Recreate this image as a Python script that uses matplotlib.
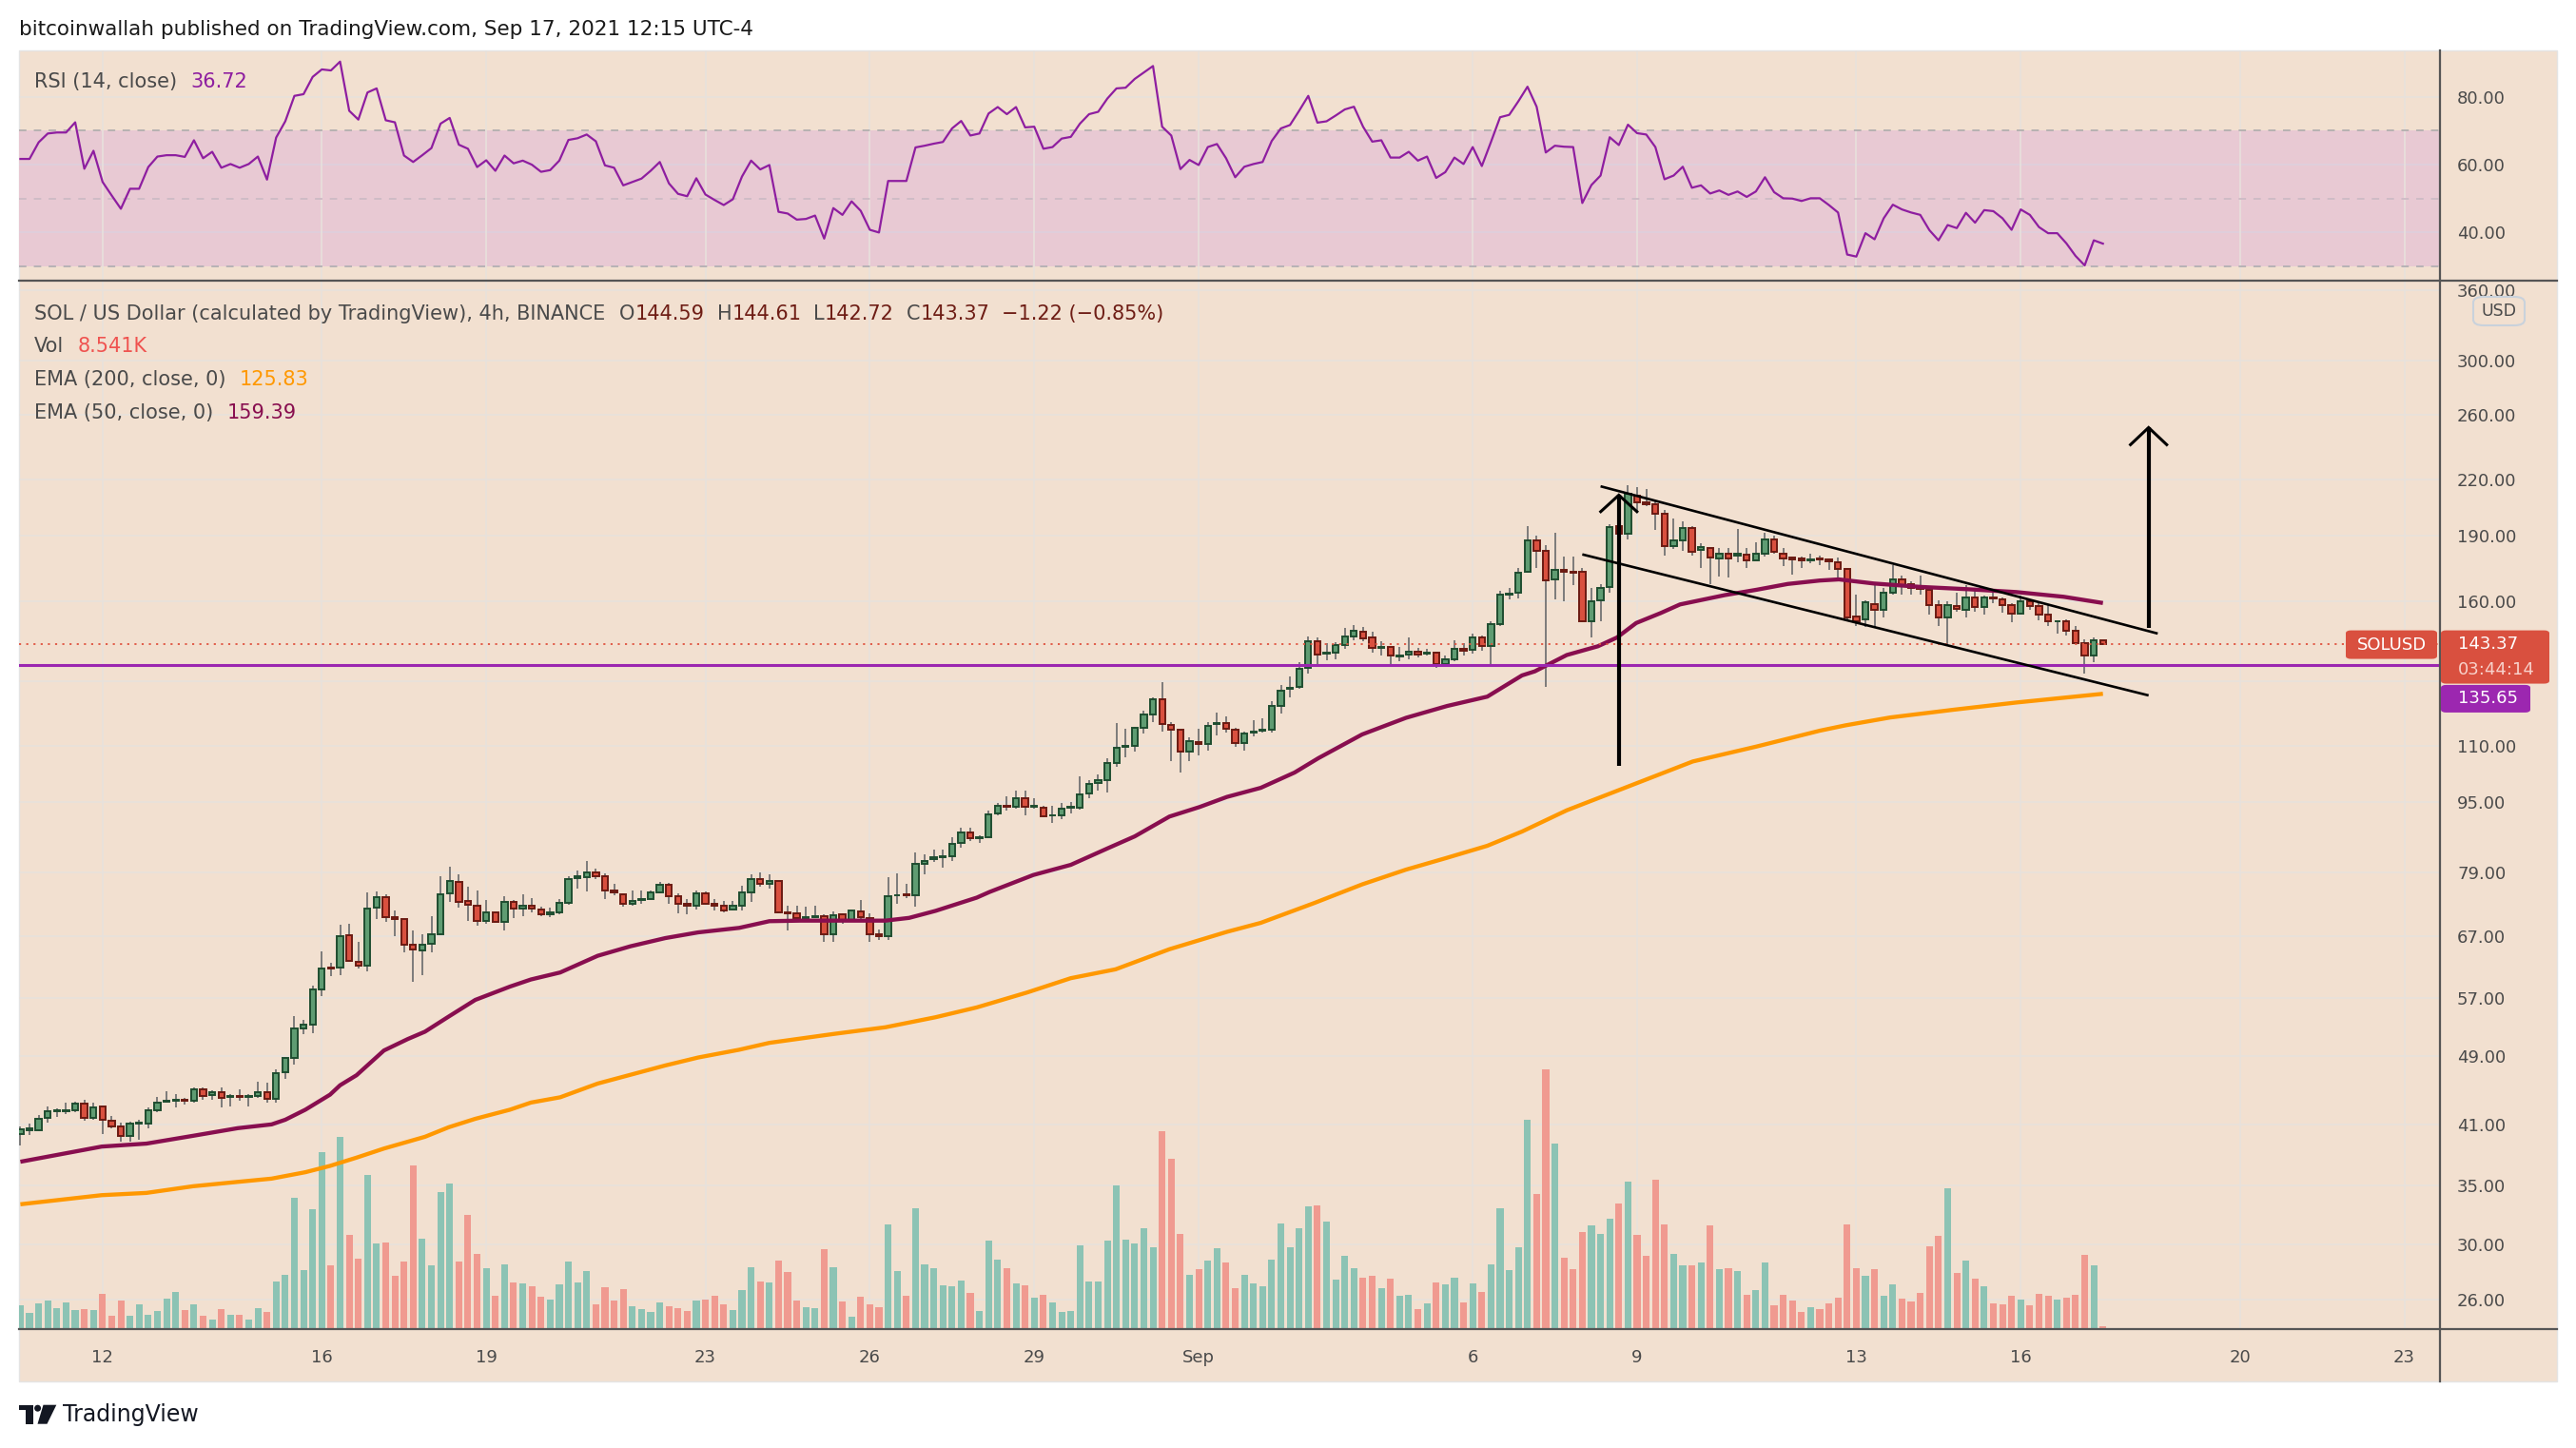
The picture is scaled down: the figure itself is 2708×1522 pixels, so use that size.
import numpy as np
import pandas as pd
import matplotlib
matplotlib.use("Agg")
import matplotlib.pyplot as plt
import matplotlib.ticker as ticker
from matplotlib.patches import Rectangle, FancyBboxPatch, Polygon, Ellipse
from matplotlib.lines import Line2D
from matplotlib.transforms import blended_transform_factory

# ---------------- data (SOL/USD 4h, Binance) ----------------
start_time = "2021-08-10 12:00"

opens = [40.0, 40.4, 40.4, 41.7, 42.4, 42.4, 42.5, 43.3, 41.7, 43.0,
         41.4, 40.8, 39.8, 41.1, 41.1, 42.5, 43.5, 43.6, 43.7, 43.6,
         44.9, 44.3, 44.6, 44.0, 44.2, 44.0, 44.2, 44.6, 43.8, 47.0,
         48.7, 52.7, 53.1, 58.3, 61.7, 61.7, 67.1, 62.6, 62.0, 72.1,
         74.1, 70.3, 70.0, 65.4, 64.5, 65.6, 67.3, 74.8, 77.0, 73.3,
         72.5, 69.7, 71.2, 69.4, 73.1, 72.0, 72.4, 71.8, 70.9, 71.2,
         73.0, 77.9, 78.1, 79.0, 78.3, 75.4, 74.7, 72.8, 73.5, 73.8,
         75.0, 76.5, 74.2, 72.8, 72.5, 74.8, 72.8, 72.4, 71.7, 72.4,
         75.0, 77.6, 76.8, 77.3, 71.3, 71.0, 70.1, 70.3, 70.6, 67.3,
         70.9, 69.8, 71.4, 70.1, 67.2, 67.0, 74.4, 74.6, 74.5, 80.9,
         81.9, 82.2, 82.4, 85.3, 87.6, 86.3, 86.7, 92.2, 94.1, 93.7,
         95.9, 93.7, 93.6, 91.6, 91.8, 93.5, 93.6, 97.0, 99.7, 100.6,
         105.2, 109.6, 109.9, 115.1, 119.3, 124.2, 116.1, 114.5, 108.3, 111.0,
         110.4, 116.3, 116.7, 114.5, 110.8, 113.8, 114.2, 114.5, 121.9, 127.4,
         128.1, 134.6, 144.2, 139.6, 140.2, 142.7, 146.1, 147.8, 145.6, 141.9,
         142.1, 138.7, 139.4, 140.5, 139.7, 140.1, 136.1, 137.8, 141.6, 141.1,
         145.6, 142.5, 151.0, 163.0, 163.6, 173.0, 187.5, 182.5, 169.4, 173.6,
         173.0, 172.8, 152.1, 160.6, 166.3, 194.9, 191.0, 211.0, 207.2, 206.3,
         201.0, 184.7, 187.5, 194.0, 183.2, 184.1, 179.2, 181.4, 180.3, 180.8,
         178.3, 181.4, 188.2, 181.4, 179.4, 179.2, 178.0, 179.0, 178.6, 177.3,
         174.1, 154.0, 152.6, 159.0, 156.6, 163.6, 169.6, 167.3, 165.7, 164.9,
         158.7, 153.5, 158.2, 156.7, 161.6, 157.7, 161.8, 161.1, 158.7, 155.1,
         160.1, 158.2, 154.6, 151.9, 151.9, 148.3, 143.4, 139.0, 144.59]

highs = [40.8, 41.1, 42.0, 43.0, 42.8, 43.4, 43.5, 43.7, 43.4, 43.0,
         41.9, 41.2, 41.3, 41.5, 42.9, 44.0, 44.7, 44.4, 43.9, 45.1,
         45.1, 44.8, 45.1, 44.4, 44.9, 44.4, 45.8, 45.7, 47.3, 48.9,
         54.3, 53.8, 58.9, 64.4, 62.4, 68.9, 69.2, 66.0, 75.0, 75.2,
         74.6, 71.5, 70.0, 67.9, 67.2, 70.6, 78.3, 80.3, 78.6, 76.1,
         75.3, 73.6, 71.3, 74.3, 73.6, 74.6, 74.0, 72.3, 72.1, 73.8,
         78.2, 79.4, 81.5, 79.8, 78.8, 76.8, 74.9, 75.4, 75.4, 75.3,
         77.1, 76.9, 74.9, 73.8, 75.4, 75.2, 73.8, 73.3, 73.3, 76.3,
         78.7, 79.1, 78.7, 77.3, 72.4, 72.4, 72.2, 72.4, 70.9, 71.4,
         71.1, 71.7, 73.6, 71.1, 68.1, 78.1, 78.8, 76.8, 83.2, 82.8,
         83.8, 83.8, 86.7, 88.7, 88.7, 87.1, 92.9, 94.8, 96.3, 97.7,
         97.7, 95.8, 94.0, 94.0, 94.7, 94.9, 101.6, 100.6, 102.0, 106.5,
         116.6, 115.0, 115.4, 120.3, 124.7, 129.7, 117.0, 114.5, 112.3, 114.8,
         117.0, 119.8, 118.7, 115.1, 114.1, 117.4, 118.1, 123.3, 128.8, 131.5,
         136.5, 146.1, 145.6, 143.6, 143.9, 149.3, 150.5, 149.6, 147.8, 144.2,
         142.3, 142.1, 145.6, 141.7, 141.6, 140.5, 138.9, 144.7, 143.4, 147.0,
         146.5, 152.1, 164.7, 165.7, 174.8, 194.5, 189.8, 185.5, 191.3, 180.0,
         180.0, 174.6, 165.7, 167.6, 195.6, 199.2, 216.4, 215.3, 214.3, 208.4,
         203.2, 198.6, 197.1, 194.7, 186.1, 184.1, 183.8, 184.1, 193.3, 183.8,
         186.7, 191.3, 189.8, 183.8, 180.0, 180.0, 181.4, 180.5, 179.2, 179.4,
         174.6, 163.1, 160.7, 168.1, 165.7, 175.7, 171.2, 168.6, 171.2, 165.2,
         160.6, 160.1, 163.9, 167.0, 165.2, 162.6, 165.2, 161.9, 159.4, 162.6,
         161.1, 159.4, 158.7, 152.4, 152.9, 150.0, 145.0, 145.9, 144.61]

lows = [38.8, 39.9, 40.3, 41.2, 41.8, 42.1, 42.3, 41.4, 41.5, 40.0,
        40.6, 39.2, 39.2, 39.4, 40.6, 42.3, 43.4, 42.9, 43.2, 43.4,
        43.7, 43.7, 42.9, 43.0, 43.6, 43.0, 43.9, 43.4, 43.4, 46.2,
        47.9, 51.9, 52.0, 57.2, 60.3, 60.4, 62.6, 61.5, 61.1, 70.0,
        69.4, 66.9, 64.1, 59.5, 60.4, 64.1, 67.1, 73.2, 72.1, 69.7,
        68.8, 69.1, 69.4, 68.0, 70.2, 70.6, 71.2, 70.6, 70.4, 70.9,
        72.7, 75.7, 75.2, 77.6, 73.8, 74.4, 72.2, 72.5, 72.9, 73.6,
        74.8, 72.8, 71.0, 70.9, 71.7, 72.6, 71.5, 71.2, 71.6, 71.5,
        73.1, 76.2, 75.7, 71.1, 68.0, 69.4, 69.9, 70.1, 65.9, 66.0,
        69.2, 69.7, 69.6, 65.9, 66.3, 66.2, 72.8, 74.0, 72.2, 78.6,
        81.3, 80.0, 81.4, 84.3, 85.7, 85.3, 86.3, 91.6, 92.9, 93.3,
        91.6, 93.2, 91.2, 90.0, 90.8, 92.1, 93.0, 95.8, 97.8, 97.2,
        104.0, 106.7, 108.3, 113.6, 116.9, 114.1, 105.7, 102.5, 105.7, 107.3,
        108.6, 112.8, 113.8, 109.7, 108.6, 112.5, 113.8, 113.8, 119.5, 124.7,
        127.6, 132.5, 135.6, 137.3, 137.8, 141.6, 144.7, 144.2, 139.9, 138.9,
        135.3, 137.0, 137.8, 138.2, 138.9, 134.6, 135.1, 137.0, 138.9, 139.6,
        140.8, 135.6, 150.3, 161.0, 161.5, 172.5, 174.6, 128.0, 161.0, 160.0,
        166.8, 151.6, 145.8, 152.1, 163.6, 183.5, 188.0, 201.6, 205.3, 192.7,
        180.5, 183.5, 182.4, 180.5, 174.6, 167.6, 170.7, 170.2, 177.2, 174.6,
        178.0, 179.9, 181.4, 175.4, 171.7, 174.6, 176.6, 176.0, 173.8, 170.2,
        152.8, 150.3, 149.6, 149.6, 153.5, 163.1, 163.1, 163.1, 163.1, 154.6,
        150.3, 143.2, 155.8, 153.5, 155.8, 154.6, 159.4, 155.3, 151.6, 154.6,
        156.5, 152.4, 150.3, 147.1, 146.5, 143.1, 132.7, 136.6, 142.72]

closes = [40.5, 40.6, 41.6, 42.4, 42.5, 42.5, 43.3, 41.7, 42.9, 41.5,
          40.8, 39.8, 41.1, 41.2, 42.5, 43.4, 43.6, 43.7, 43.6, 44.9,
          44.1, 44.6, 43.9, 44.2, 44.0, 44.2, 44.6, 43.8, 46.9, 48.7,
          52.6, 53.1, 58.3, 61.6, 61.5, 66.9, 62.7, 62.0, 72.0, 74.1,
          70.4, 70.0, 65.5, 64.6, 65.5, 67.3, 74.7, 77.2, 73.1, 72.6,
          69.7, 71.2, 69.5, 73.1, 72.0, 72.4, 72.0, 70.8, 71.2, 73.0,
          77.6, 78.3, 79.0, 78.3, 75.4, 75.0, 72.8, 73.3, 73.8, 75.0,
          76.5, 74.2, 72.8, 72.5, 74.8, 72.8, 72.4, 71.6, 72.4, 75.0,
          77.6, 76.8, 77.3, 71.3, 71.0, 70.1, 70.3, 70.6, 67.3, 70.7,
          69.9, 71.6, 70.4, 67.3, 67.0, 74.2, 74.5, 74.4, 80.9, 81.4,
          82.2, 82.4, 85.2, 87.6, 86.3, 86.7, 92.0, 94.1, 93.7, 95.9,
          93.7, 93.9, 91.4, 91.8, 93.2, 93.7, 96.9, 99.5, 100.6, 105.1,
          109.2, 109.9, 115.1, 119.3, 124.2, 116.4, 114.6, 108.3, 111.2, 110.4,
          115.6, 116.7, 114.9, 110.8, 113.4, 114.1, 114.5, 121.9, 127.0, 127.8,
          134.3, 144.2, 139.2, 140.2, 142.7, 146.1, 148.3, 145.3, 141.7, 142.3,
          138.9, 139.0, 140.5, 139.2, 140.1, 136.1, 137.6, 141.6, 140.6, 145.6,
          142.5, 151.0, 163.1, 163.5, 172.5, 187.5, 182.5, 169.1, 173.8, 172.8,
          172.5, 152.1, 160.1, 165.7, 194.4, 191.0, 212.0, 207.2, 206.3, 201.0,
          184.7, 187.5, 194.0, 182.0, 184.4, 179.4, 181.4, 179.2, 181.1, 178.0,
          181.1, 188.2, 182.0, 179.2, 178.6, 178.0, 178.6, 178.6, 177.6, 174.1,
          153.5, 151.9, 159.8, 156.6, 163.6, 169.6, 167.0, 165.9, 165.2, 158.7,
          153.5, 158.7, 157.0, 161.6, 157.7, 161.6, 161.4, 158.7, 155.1, 160.1,
          158.2, 154.6, 151.9, 152.1, 148.3, 143.4, 139.0, 144.59, 143.37]

# volume in thousands
volume = [75, 51, 81, 90, 66, 84, 60, 63, 60, 111, 42, 90, 42, 78, 45, 57, 96, 117, 60, 78,
          42, 30, 63, 45, 45, 30, 66, 54, 150, 171, 414, 186, 378, 558, 201, 606, 297, 222, 486, 270,
          273, 168, 213, 516, 285, 201, 432, 459, 213, 360, 237, 192,
          105, 204, 147, 144, 135, 102, 93, 141, 213, 147, 183, 78, 132, 90, 126, 72, 63, 54, 84, 72,
          66, 57, 90, 93, 105, 78, 60, 123, 195, 150, 147, 216, 180, 90, 69, 66, 252, 195, 87, 39,
          102, 78, 69, 330, 183, 105, 381, 204, 192, 138, 135, 153, 114, 57, 279, 219, 192, 144, 138,
          99, 108, 84, 54, 57, 264, 150, 150, 279, 453, 282, 270, 318, 258, 624, 537, 300, 171, 189, 216,
          255, 210, 129, 171, 144, 135, 219, 333, 258, 318, 387, 390, 339, 156, 231, 192, 162, 168, 129, 159,
          105, 108, 63, 81, 147, 141, 162, 84, 144, 117, 204, 381,
          186, 258, 660, 426, 819, 585, 225, 189, 306, 327, 300, 348, 396, 465, 297, 231, 471, 330, 237, 201,
          201, 210, 327, 189, 192, 183, 108, 123, 210, 75, 108, 90, 54, 69, 63, 81, 99,
          330, 192, 168, 189, 105, 141, 96, 87, 114, 261, 294, 444, 177, 216, 159, 135, 81, 78, 105, 93,
          75, 111, 105, 93, 99, 108, 234, 201, 8.541]

rsi = [61.7, 61.7, 66.6, 69.2, 69.5, 69.5, 72.5, 58.8, 64.1, 54.9,
       50.9, 47.0, 52.9, 52.9, 59.3, 62.4, 62.8, 62.8, 62.3, 67.2,
       61.9, 63.8, 59.1, 60.2, 59.1, 60.2, 62.4, 55.6, 68.0, 72.8,
       80.3, 80.8, 85.9, 88.1, 87.8, 90.4, 75.9, 73.3, 81.3, 82.5,
       73.1, 72.5, 62.7, 60.8, 62.8, 64.9, 72.1, 73.8, 65.9, 64.7,
       59.3, 61.3, 58.2, 62.7, 60.4, 61.2, 60.0, 57.9, 58.4, 61.2,
       67.3, 67.8, 68.9, 66.9, 59.8, 59.1, 53.9, 54.9, 55.9, 58.2,
       60.8, 54.5, 51.4, 50.7, 56.0, 51.2, 49.6, 48.1, 49.8, 56.5,
       61.2, 58.6, 59.9, 46.1, 45.6, 43.8, 44.0, 45.0, 38.2, 47.2,
       45.2, 49.2, 46.4, 40.8, 40.0, 55.2, 55.2, 55.2, 65.1, 65.6,
       66.2, 66.7, 70.7, 72.9, 68.6, 69.2, 75.1, 77.0, 74.9, 77.0,
       71.0, 71.2, 64.7, 65.2, 67.7, 68.2, 72.1, 74.9, 75.6, 79.5,
       82.5, 82.7, 85.3, 87.2, 89.1, 71.2, 68.6, 58.7, 61.4, 59.9,
       65.2, 66.1, 61.9, 56.3,
       59.4, 60.2, 60.8, 67.0, 70.7, 71.7, 75.9, 80.3, 72.4, 72.8,
       74.5, 76.3, 77.1, 71.2, 66.8, 67.2, 62.1, 62.1, 63.8, 61.2,
       62.4, 56.1, 57.8, 62.1, 60.2, 65.2, 59.6, 66.7, 74.0, 74.7,
       78.7, 83.0, 77.1, 63.6, 65.6, 65.3, 65.2, 48.7, 54.0, 56.8,
       68.1, 65.8, 71.8, 69.3, 68.9, 65.2, 55.7, 56.8, 59.4, 53.2,
       53.9, 51.5, 52.4, 51.1, 52.1, 50.5, 52.1, 56.3, 51.9, 50.1,
       50.0, 49.3, 50.1, 50.1, 48.1, 45.9, 33.5, 32.9, 39.8, 38.0,
       44.2, 48.2, 46.8, 45.9, 45.2, 40.7, 37.7, 42.2, 41.3, 45.8,
       42.9, 46.6, 46.3, 44.2, 40.8, 46.8, 45.2, 41.6, 39.8, 39.8,
       36.8, 33.1, 30.3, 37.7, 36.72]

# EMA readings (candle index, value)
ema50_idx = [0, 8.9, 13.8, 18.9, 23.8, 27.5, 29, 31.2, 33.9, 35, 36.8, 39.8, 42.4, 44.3, 46.9,
             49.8, 53.6, 55.9, 59.1, 63.2, 66.8, 70.6, 74.2, 78.7, 82, 85.4, 89.1, 94.7, 97.3,
             100.2, 104.7, 106.1, 110.9, 115, 119.1, 122, 125.8, 129.1, 132.1, 135.8, 139.5,
             142.1, 146.9, 151.7, 156.2, 160.6, 164.4, 165.8, 169.3, 172.7, 174.8, 176.9, 179.6,
             181.7, 186.6, 190.1, 193.5, 197, 199.1, 202.9, 208.1, 213.3, 218.5, 223.7, 228]
ema50_val = [37.2, 38.7, 39.0, 39.8, 40.6, 41.0, 41.5, 42.6, 44.3, 45.4, 46.6, 49.7, 51.2, 52.2, 54.3,
             56.7, 58.7, 59.8, 60.9, 63.6, 65.2, 66.6, 67.6, 68.4, 69.6, 69.7, 69.7, 69.7, 70.2,
             71.5, 74.0, 75.1, 78.5, 80.6, 84.2, 86.8, 91.4, 93.7, 96.2, 98.5, 102.5,
             106.4, 113.2, 118.2, 121.9, 124.9, 132.0, 133.4, 139.2, 142.4, 145.7, 151.3, 155.3,
             158.8, 162.7, 165.0, 167.5, 169.0, 169.5, 167.7, 166.2, 165.2, 164.0, 162.0, 159.39]
ema200_idx = [0, 8.9, 13.8, 18.9, 23.8, 27.5, 31.2, 33.9, 36.8, 39.8, 44.3, 46.9, 49.8, 53.6, 55.9,
              59.1, 63.2, 70.6, 74.2, 78.7, 82, 89.1, 94.7, 100.2, 104.7, 110.2, 115, 119.9, 125.8,
              132.1, 135.8, 141.7, 146.9, 151.7, 156.2, 160.6, 164.4, 169.3, 176.2, 183.1, 190.1,
              197, 199.8, 204.7, 211.6, 218.5, 228]
ema200_val = [33.3, 34.1, 34.3, 34.9, 35.3, 35.6, 36.2, 36.8, 37.6, 38.5, 39.7, 40.7, 41.6, 42.6, 43.4,
              44.0, 45.6, 47.8, 48.8, 49.8, 50.7, 51.9, 52.8, 54.2, 55.6, 57.8, 60.0, 61.4, 64.7,
              67.7, 69.3, 73.0, 76.6, 79.6, 82.1, 84.7, 87.9, 92.9, 99.0, 105.5, 109.7,
              114.3, 115.9, 118.3, 120.7, 123.0, 125.83]

support_level = 135.65
date_ticks = ["2021-08-12", "2021-08-16", "2021-08-19", "2021-08-23", "2021-08-26", "2021-08-29",
              "2021-09-01", "2021-09-06", "2021-09-09", "2021-09-13", "2021-09-16", "2021-09-20",
              "2021-09-23"]
date_labels = ["12", "16", "19", "23", "26", "29", "Sep", "6", "9", "13", "16", "20", "23"]
price_ticks = [26, 30, 35, 41, 49, 57, 67, 79, 95, 110, 160, 190, 220, 260, 300, 360]
price_grid = price_ticks + [130]
rsi_ticks = [40, 60, 80]

# drawings: (candle index, price)
channel_top = [(173.0, 216.0), (234.0, 147.2)]
channel_bottom = [(171.0, 180.9), (233.0, 125.3)]
pole = [(175.0, 104.4), (175.0, 211.1)]
pole_head = [(172.9, 201.7), (175.0, 211.1), (177.1, 201.7)]
target = [(233.0, 149.5), (233.0, 251.7)]
target_head = [(230.9, 240.1), (233.0, 251.7), (235.1, 240.1)]

# ---------------- style ----------------
W, H = 2708, 1522
BG = "#F2E0D0"
GRID = "#E7E2DD"
TXT = "#4A4A4A"
UP_FILL, UP_EDGE = "#5F9C72", "#1F4D30"
DN_FILL, DN_EDGE = "#D9503F", "#6B1A12"
WICK = "#737373"
VOL_UP, VOL_DN = "#8CC3B4", "#F09A90"
RED_LABEL = "#D9503F"
PURPLE = "#9C27B0"
LOGO = "#131722"
LEG = 15
TICK = 13
plt.rcParams["font.family"] = ["DejaVu Sans"]

fig = plt.figure(figsize=(W / 100, H / 100), dpi=100)
fig.patch.set_facecolor("white")


def fx(px):
    return px / W


def fy(py):
    return 1 - py / H


fig.add_artist(Rectangle((fx(20), fy(1452)), (2688 - 20) / W, (1452 - 53) / H,
                         transform=fig.transFigure, facecolor=BG, edgecolor="#E4E4E4",
                         linewidth=1, zorder=0))

L, R = 20, 2565
ax_r = fig.add_axes([fx(L), fy(295), (R - L) / W, (295 - 53) / H])
ax = fig.add_axes([fx(L), fy(1397), (R - L) / W, (1397 - 295) / H])
for a in (ax, ax_r):
    a.set_facecolor("none")
    for s in a.spines.values():
        s.set_visible(False)

n = len(closes)
x = np.arange(n)
o = np.array(opens)
h = np.array(highs)
lo = np.array(lows)
c = np.array(closes)
up = c >= o

t0 = pd.Timestamp(start_time)
tick_pos = [(pd.Timestamp(d) - t0) / pd.Timedelta("4h") for d in date_ticks]
xmin, xmax = -0.15, 264.9

# ---------------- price pane ----------------
ax.set_yscale("log")
for p in price_grid:
    ax.axhline(p, color=GRID, lw=1.1, zorder=0)
for t in tick_pos:
    ax.axvline(t, color=GRID, lw=1.1, zorder=0)

vtrans = blended_transform_factory(ax.transData, ax.transAxes)
vol = np.array(volume)
VOL_FULL = 3306.0
ax.bar(x, vol / VOL_FULL, width=0.74, bottom=0, color=np.where(up, VOL_UP, VOL_DN),
       transform=vtrans, zorder=1)

ax.vlines(x, lo, h, color=WICK, lw=1.3, zorder=3)
body_lo = np.minimum(o, c)
body_h = np.abs(c - o)
ax.bar(x[up], body_h[up], bottom=body_lo[up], width=0.66, color=UP_FILL,
       edgecolor=UP_EDGE, linewidth=1.4, zorder=4)
ax.bar(x[~up], body_h[~up], bottom=body_lo[~up], width=0.66, color=DN_FILL,
       edgecolor=DN_EDGE, linewidth=1.4, zorder=4)

ax.plot(ema200_idx, ema200_val, color="#FF9800", lw=3.1, zorder=5, solid_capstyle="butt")
ax.plot(ema50_idx, ema50_val, color="#880E4F", lw=3.1, zorder=5, solid_capstyle="butt")

ax.axhline(support_level, color=PURPLE, lw=2.2, zorder=5)
ax.axhline(closes[-1], color="#E0533F", lw=1.3, ls=(0, (1.2, 3)), zorder=5)

for seg, lw in [(channel_top, 1.9), (channel_bottom, 1.9), (pole, 3.0), (pole_head, 2.2),
                (target, 3.0), (target_head, 2.2)]:
    xs, ys = zip(*seg)
    ax.plot(xs, ys, color="black", lw=lw, zorder=7, solid_capstyle="butt",
            solid_joinstyle="miter")

ax.set_xlim(xmin, xmax)
ax.set_ylim(24.06, 369)
ax.yaxis.tick_right()
ax.yaxis.set_major_locator(ticker.FixedLocator(price_ticks))
ax.yaxis.set_major_formatter(ticker.FuncFormatter(lambda v, _: f"{v:.2f}"))
ax.yaxis.set_minor_locator(ticker.NullLocator())
ax.tick_params(axis="y", length=0, pad=13, labelsize=TICK, colors=TXT)
ax.set_xticks(tick_pos)
ax.set_xticklabels(date_labels)
ax.tick_params(axis="x", length=0, pad=15, labelsize=TICK, colors=TXT)

# ---------------- RSI pane ----------------
ax_r.set_xlim(xmin, xmax)
ax_r.set_ylim(25.8, 93.7)
ax_r.axhspan(30, 70, color="#E8C9D3", zorder=0, lw=0)
for v in rsi_ticks:
    ax_r.axhline(v, color=GRID if v > 70 else "#DDD0DE", lw=1.1, zorder=1)
for t in tick_pos:
    ax_r.axvline(t, color=GRID, lw=1.1, zorder=1)
ax_r.axhline(70, color="#B7B2B2", lw=1.4, ls=(0, (4, 4)), zorder=2)
ax_r.axhline(30, color="#B7B2B6", lw=1.4, ls=(0, (4, 4)), zorder=2)
ax_r.axhline(50, color="#CFBCC6", lw=1.4, ls=(0, (4, 4)), zorder=2)
rx = np.arange(n - len(rsi), n)
ax_r.plot(rx, rsi, color="#8E1EA0", lw=1.6, zorder=3)
ax_r.set_xticks([])
ax_r.yaxis.tick_right()
ax_r.set_yticks(rsi_ticks)
ax_r.set_yticklabels([f"{v:.2f}" for v in rsi_ticks])
ax_r.tick_params(axis="y", length=0, pad=13, labelsize=TICK, colors=TXT)

# ---------------- frame lines ----------------
for (x0, y0, x1, y1) in [(20, 295, 2688, 295), (20, 1397, 2688, 1397), (2565, 53, 2565, 1452)]:
    fig.add_artist(Line2D([fx(x0), fx(x1)], [fy(y0), fy(y1)], transform=fig.transFigure,
                          color="#555555", lw=1.6, zorder=10))

# ---------------- price labels on the scale ----------------
y_last = ax.transData.transform((0, closes[-1]))[1]
y_sup = ax.transData.transform((0, support_level))[1]


def box(x0, x1, ytop, ybot, color):
    fig.add_artist(FancyBboxPatch((x0 / W, ybot / H), (x1 - x0) / W, (ytop - ybot) / H,
                                  boxstyle="round,pad=0,rounding_size=0.002",
                                  transform=fig.transFigure, facecolor=color,
                                  edgecolor="none", zorder=11))


box(2466, 2562, y_last + 14, y_last - 16, RED_LABEL)
fig.text(2514 / W, (y_last - 1) / H, "SOLUSD", color="white", fontsize=TICK,
         ha="center", va="center", zorder=12)
box(2566, 2680, y_last + 14, y_last - 42, RED_LABEL)
fig.text(2584 / W, y_last / H, f"{closes[-1]:.2f}", color="white", fontsize=TICK,
         ha="left", va="center", zorder=12)
fig.text(2584 / W, (y_last - 27) / H, "03:44:14", color="#F8D2CB", fontsize=TICK,
         ha="left", va="center", zorder=12)
box(2566, 2660, y_sup - 21, y_sup - 50, PURPLE)
fig.text(2584 / W, (y_sup - 35) / H, f"{support_level:.2f}", color="white", fontsize=TICK,
         ha="left", va="center", zorder=12)

fig.add_artist(FancyBboxPatch((fx(2600), fy(342)), 54 / W, 30 / H,
                              boxstyle="round,pad=0,rounding_size=0.004",
                              transform=fig.transFigure, facecolor=BG,
                              edgecolor="#C9D2DC", linewidth=1.5, zorder=11))
fig.text(fx(2627), fy(327), "USD", color=TXT, fontsize=12.5, ha="center", va="center", zorder=12)

# ---------------- legends / header ----------------
renderer = fig.canvas.get_renderer()


def pieces(x_px, y_px, parts, size):
    xp = x_px
    for s, col, gap in parts:
        t = fig.text(fx(xp), fy(y_px), s, color=col, fontsize=size, ha="left", va="center",
                     zorder=12)
        xp += t.get_window_extent(renderer=renderer).width + gap


VAL = "#6E1D15"
fig.text(fx(20), fy(31), "bitcoinwallah published on TradingView.com, Sep 17, 2021 12:15 UTC-4",
         color="#1A1A1A", fontsize=15.5, ha="left", va="center")
pieces(36, 86, [("RSI (14, close)", TXT, 14), (f"{rsi[-1]:.2f}", "#8E1EA0", 0)], LEG)
pieces(36, 330, [("SOL / US Dollar (calculated by TradingView), 4h, BINANCE", TXT, 15),
                 ("O", TXT, 0), (f"{opens[-1]:.2f}", VAL, 13),
                 ("H", TXT, 0), (f"{highs[-1]:.2f}", VAL, 13),
                 ("L", TXT, 0), (f"{lows[-1]:.2f}", VAL, 13),
                 ("C", TXT, 0), (f"{closes[-1]:.2f}", VAL, 13),
                 ("\u22121.22 (\u22120.85%)", VAL, 0)], LEG)
pieces(36, 364, [("Vol", TXT, 14), (f"{volume[-1]:.3f}K", "#EF5350", 0)], LEG)
pieces(36, 399, [("EMA (200, close, 0)", TXT, 14), (f"{ema200_val[-1]:.2f}", "#FF9800", 0)], LEG)
pieces(36, 434, [("EMA (50, close, 0)", TXT, 14), (f"{ema50_val[-1]:.2f}", "#880E4F", 0)], LEG)

# TradingView logo mark
logo_parts = [
    Polygon([(fx(20), fy(1476.7)), (fx(34.7), fy(1476.7)), (fx(34.7), fy(1496.7)),
             (fx(27.3), fy(1496.7)), (fx(27.3), fy(1481.5)), (fx(20), fy(1481.5))], closed=True),
    Ellipse((fx(39.6), fy(1480.2)), 7.0 / W, 7.0 / H),
    Polygon([(fx(45.5), fy(1476.7)), (fx(59.3), fy(1476.7)), (fx(49.5), fy(1496.7)),
             (fx(39.5), fy(1496.7))], closed=True),
]
for part in logo_parts:
    part.set_transform(fig.transFigure)
    part.set_facecolor(LOGO)
    part.set_edgecolor("none")
    fig.add_artist(part)
fig.text(fx(66), fy(1487), "TradingView", color=LOGO, fontsize=17, ha="left", va="center")

fig.savefig("out.png", dpi=100, facecolor="white")
